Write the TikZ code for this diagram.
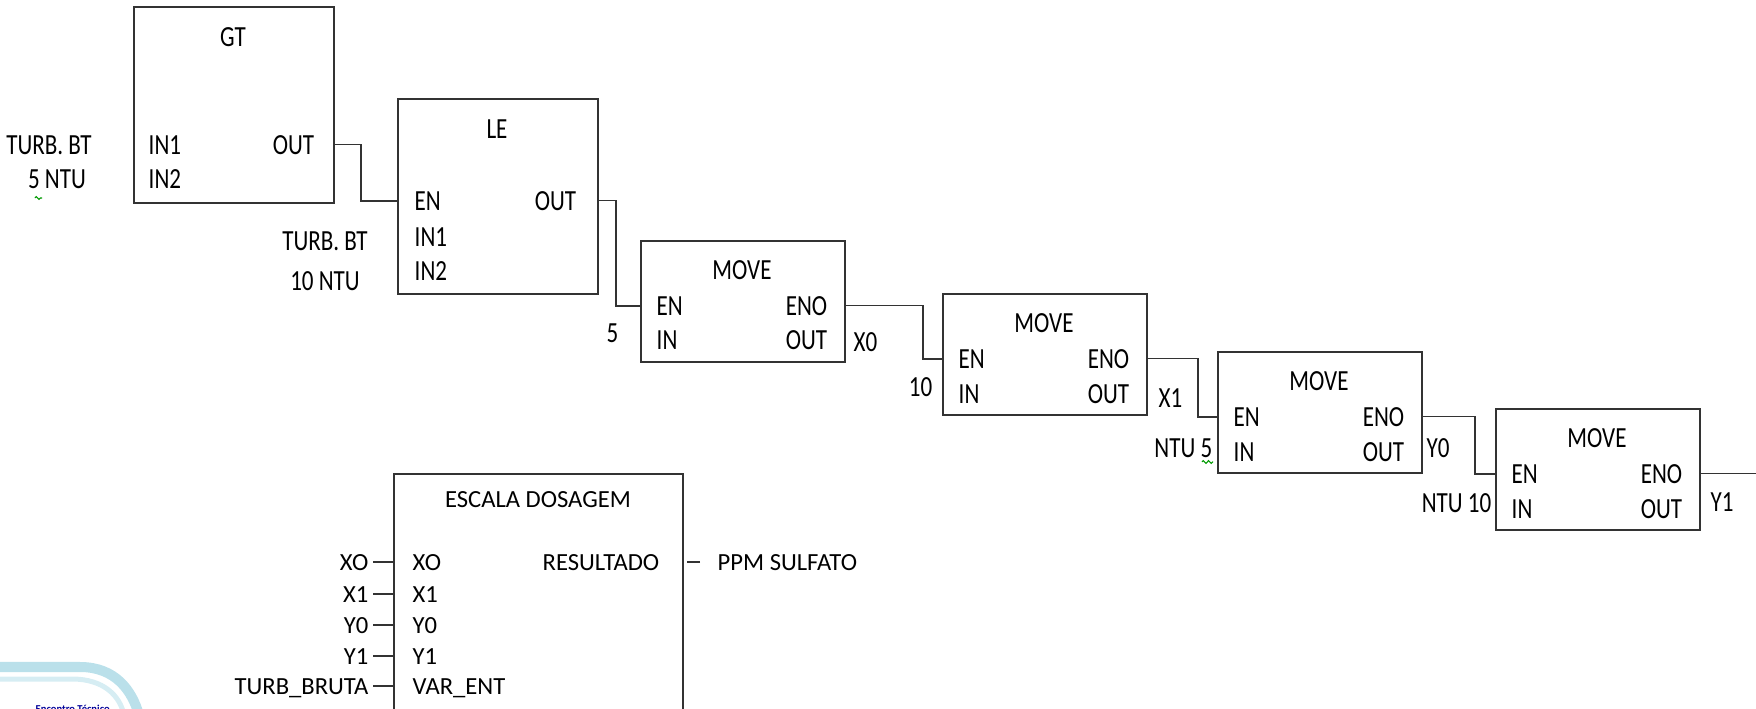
\documentclass[tikz,border=0pt]{standalone}
\usepackage{fontspec}
\setmainfont{Carlito}
\newfontfamily\fbdfont{Carlito}[FakeStretch=0.79]
\usetikzlibrary{calc,decorations.pathmorphing}

\definecolor{logoazul}{RGB}{186,224,234}
\definecolor{logoclaro}{RGB}{214,237,243}

\tikzset{
  fblock/.style={draw=black!80, line width=0.5pt, rectangle, inner sep=0pt, anchor=north west},
  toptxt/.style={font=\fbdfont\fontsize{8.3pt}{10pt}\selectfont, inner sep=0pt, text depth=0pt},
  bottxt/.style={font=\fontsize{7pt}{8pt}\selectfont, inner sep=0pt, text depth=0pt},
  wire/.style={draw=black!80, line width=0.5pt},
  spell/.style={draw=green!60!black, line width=0.3pt, decorate,
    decoration={zigzag, amplitude=0.4pt, segment length=1.5pt}},
}

\begin{document}
\begin{tikzpicture}[x=0.01cm, y=-0.01cm]
    \useasboundingbox (0,0) rectangle (1756,709);
    \clip (0,0) rectangle (1756,709);

    % =================================================================
    % PARTE 1: BLOCOS GT E LE
    % =================================================================
    \node[fblock, minimum width=2cm, minimum height=1.96cm] (gt) at (133,6) {};
    \node[toptxt, anchor=base] (gt-t) at ([shift={(100,40)}]gt.north west) {GT};
    \node[toptxt, anchor=base west] (gt-in1) at ([shift={(15,148)}]gt.north west) {IN1};
    \node[toptxt, anchor=base west] (gt-in2) at ([shift={(15,182)}]gt.north west) {IN2};
    \node[toptxt, anchor=base east] (gt-out) at ([shift={(-20,148)}]gt.north east) {OUT};
    \node[toptxt, anchor=base] (gt-v1) at (49,154) {TURB. BT};
    \node[toptxt, anchor=base] (gt-v2) at (57,189) {5 NTU};
    \draw[spell] (35,198) -- (42,198);

    \node[fblock, minimum width=2cm, minimum height=1.95cm] (le) at (397,98) {};
    \node[toptxt, anchor=base] (le-t) at ([shift={(100,40)}]le.north west) {LE};
    \node[toptxt, anchor=base west] (le-en) at ([shift={(17,112)}]le.north west) {EN};
    \node[toptxt, anchor=base west] (le-in1) at ([shift={(17,148)}]le.north west) {IN1};
    \node[toptxt, anchor=base west] (le-in2) at ([shift={(17,183)}]le.north west) {IN2};
    \node[toptxt, anchor=base east] (le-out) at ([shift={(-22,112)}]le.north east) {OUT};
    \node[toptxt, anchor=base] (le-v1) at (325,250) {TURB. BT};
    \node[toptxt, anchor=base] (le-v2) at (325,290) {10 NTU};

    \coordinate (gt-b) at (gt.east |- gt-out.east);
    \coordinate (le-a) at (le.west |- le-en.west);
    \coordinate (le-b) at (le.east |- le-out.east);

    % =================================================================
    % PARTE 2: BLOCOS MOVE EM CASCATA
    % =================================================================
    \foreach \n/\x/\y in {mv1/640/240, mv2/942/293, mv3/1217/351, mv4/1495/408} {
        \node[fblock, minimum width=2.04cm, minimum height=1.21cm] (\n) at (\x,\y) {};
        \node[toptxt, anchor=base] (\n-t) at ([shift={(102,39)}]\n.north west) {MOVE};
        \node[toptxt, anchor=base west] (\n-en) at ([shift={(16,75)}]\n.north west) {EN};
        \node[toptxt, anchor=base west] (\n-in) at ([shift={(16,110)}]\n.north west) {IN};
        \node[toptxt, anchor=base east] (\n-eno) at ([shift={(-18,75)}]\n.north east) {ENO};
        \node[toptxt, anchor=base east] (\n-out) at ([shift={(-18,110)}]\n.north east) {OUT};
        \coordinate (\n-a) at (\n.west |- \n-en.west);
        \coordinate (\n-b) at (\n.east |- \n-eno.east);
    }

    % Valores de entrada e saida
    \node[toptxt, anchor=base east] (mv1-v) at (619,342) {5};
    \node[toptxt, anchor=base west] (mv1-o) at (853,351) {X0};
    \node[toptxt, anchor=base east] (mv2-v) at (933,396) {10};
    \node[toptxt, anchor=base west] (mv2-o) at (1158,407) {X1};
    \node[toptxt, anchor=base east] (mv3-v) at (1213,457) {NTU 5};
    \node[toptxt, anchor=base west] (mv3-o) at (1426,457) {Y0};
    \node[toptxt, anchor=base east] (mv4-v) at (1492,512) {NTU 10};
    \node[toptxt, anchor=base west] (mv4-o) at (1710,511) {Y1};
    \draw[spell] (1202,462) -- (1213,462);

    % Ligacoes OUT/ENO -> EN
    \coordinate (fim) at (1756,0);
    \draw[wire] (gt-b) -| ([shift={(-36,0)}]le-a) -- (le-a);
    \draw[wire] (le-b) -| ([shift={(-24,0)}]mv1-a) -- (mv1-a);
    \draw[wire] (mv1-b) -| ([shift={(-19,0)}]mv2-a) -- (mv2-a);
    \draw[wire] (mv2-b) -| ([shift={(-19,0)}]mv3-a) -- (mv3-a);
    \draw[wire] (mv3-b) -| ([shift={(-20,0)}]mv4-a) -- (mv4-a);
    \draw[wire] (mv4-b) -- (mv4-b -| fim);

    % =================================================================
    % PARTE 3: BLOCO ESCALA DOSAGEM
    % =================================================================
    \node[fblock, minimum width=2.89cm, minimum height=2.6cm] (esc) at (393,473) {};
    \node[bottxt, anchor=base] (esc-t) at ([shift={(145,34)}]esc.north west) {ESCALA DOSAGEM};
    \node[bottxt, anchor=base east] (esc-res) at ([shift={(-24,97)}]esc.north east) {RESULTADO};
    \node[bottxt, anchor=base west] (ppm) at (717,570) {PPM SULFATO};
    \draw[wire] ([shift={(-17,0)}]ppm.west) -- ([shift={(-30,0)}]ppm.west);

    \foreach \i/\lab/\pin/\yy in {1/XO/XO/570, 2/X1/X1/602, 3/Y0/Y0/633, 4/Y1/Y1/664, 5/TURB\_BRUTA/VAR\_ENT/694} {
        \node[bottxt, anchor=base east] (ent\i) at (369,\yy) {\lab};
        \node[bottxt, anchor=base west] (pin\i) at (412,\yy) {\pin};
        \draw[wire] ([shift={(4,0)}]ent\i.east) -- (ent\i.east -| esc.west);
    }

    % Logotipo no canto (cortado)
    \draw[line width=0.05cm, logoclaro] (0,679) -- (72,679) .. controls (104,679) and (120,696) .. (124,715);
    \draw[line width=0.1cm, logoazul] (0,667) -- (80,667) .. controls (115,667) and (132,690) .. (139,715);
    \node[anchor=north west, inner sep=0pt, font=\bfseries\fontsize{3pt}{3pt}\selectfont,
          text=blue!60!black] (enc) at (35,704) {Encontro Técnico};

\end{tikzpicture}
\end{document}
